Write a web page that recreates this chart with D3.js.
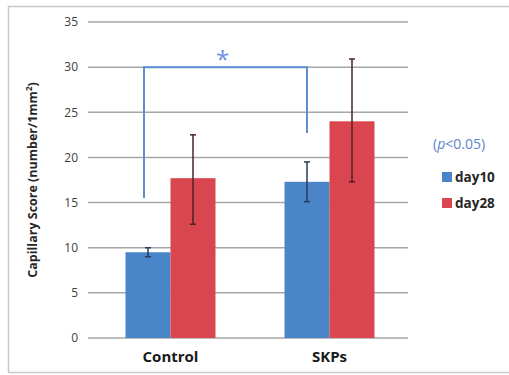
<!DOCTYPE html>
<html>
<head>
<meta charset="utf-8">
<script src="https://cdn.jsdelivr.net/npm/d3@7"></script>
<style>
  body { margin: 0; background: #fff; }
  text { font-family: "Open Sans", "DejaVu Sans", sans-serif; }
</style>
</head>
<body>
<div id="chart"></div>
<script>
// data
var groups = ["Control", "SKPs"];
var seriesNames = ["day10", "day28"];
var day10 = [9.5, 17.3];
var day28 = [17.7, 24.0];
var day10Err = [[9.0, 10.0], [15.1, 19.5]];
var day28Err = [[12.6, 22.5], [17.3, 30.9]];
var yTicks = [0, 5, 10, 15, 20, 25, 30, 35];
var colors = ["#4a84c9", "#d9464f"];

var svgWidth = 509;
var svgHeight = 375;

var margin = { top: 22, right: 101, bottom: 37, left: 88 };
var width = svgWidth - margin.left - margin.right;
var height = svgHeight - margin.top - margin.bottom;

var svg = d3.select("#chart")
  .append("svg")
  .attr("width", svgWidth)
  .attr("height", svgHeight);

// outer frame
svg.append("rect")
  .attr("x", 8.5).attr("y", 6.5)
  .attr("width", 505).attr("height", 366)
  .attr("fill", "none")
  .attr("stroke", "#c8c8c8")
  .attr("stroke-width", 1.5);

var chartGroup = svg.append("g")
  .attr("transform", `translate(${margin.left}, ${margin.top})`);

var x0 = d3.scaleBand().domain(groups).range([3, width + 1]).paddingInner(0).paddingOuter(0);
var x1 = d3.scaleBand().domain(seriesNames).range([0, 90]).padding(0);
var y = d3.scaleLinear().domain([0, 35]).range([height, 0]);

// gridlines
chartGroup.selectAll(".grid")
  .data(yTicks)
  .enter()
  .append("line")
  .attr("x1", 0).attr("x2", width)
  .attr("y1", d => y(d)).attr("y2", d => y(d))
  .attr("stroke", "#a6a6a6")
  .attr("stroke-width", 1.5);

// y tick labels
var leftAxis = d3.axisLeft(y).tickValues(yTicks).tickSize(0).tickPadding(10);
chartGroup.append("g")
  .call(leftAxis)
  .call(g => g.select(".domain").remove())
  .selectAll("text")
  .attr("font-size", 12)
  .attr("fill", "#404040");

// x labels
var bottomAxis = d3.axisBottom(x0).tickSize(0).tickPadding(13);
chartGroup.append("g")
  .attr("transform", `translate(0, ${height})`)
  .call(bottomAxis)
  .call(g => g.select(".domain").remove())
  .selectAll("text")
  .attr("font-size", 15)
  .attr("font-weight", "bold")
  .attr("fill", "#1a1a1a");

var seriesVals = [day10, day28];
var seriesErr = [day10Err, day28Err];

function barX(gi, si) {
  return x0(groups[gi]) + x0.bandwidth() / 2 - 45 + x1(seriesNames[si]);
}

// bars
seriesNames.forEach(function(s, si) {
  chartGroup.selectAll(".bar" + si)
    .data(seriesVals[si])
    .enter()
    .append("rect")
    .attr("x", (d, gi) => barX(gi, si))
    .attr("y", d => y(d))
    .attr("width", x1.bandwidth())
    .attr("height", d => height - y(d))
    .attr("fill", colors[si]);
});

// error bars
seriesNames.forEach(function(s, si) {
  var g = chartGroup.selectAll(".err" + si)
    .data(seriesErr[si])
    .enter()
    .append("g")
    .attr("stroke", si === 0 ? "#2b3a5a" : "#4a2326")
    .attr("stroke-width", 1.5);
  g.append("line")
    .attr("x1", (d, gi) => barX(gi, si) + x1.bandwidth() / 2)
    .attr("x2", (d, gi) => barX(gi, si) + x1.bandwidth() / 2)
    .attr("y1", d => y(d[0])).attr("y2", d => y(d[1]));
  [0, 1].forEach(function(k) {
    g.append("line")
      .attr("x1", (d, gi) => barX(gi, si) + x1.bandwidth() / 2 - 3)
      .attr("x2", (d, gi) => barX(gi, si) + x1.bandwidth() / 2 + 3)
      .attr("y1", d => y(d[k])).attr("y2", d => y(d[k]));
  });
});

// significance bracket
var bx1 = barX(0, 0) + x1.bandwidth() / 2 - 4;
var bx2 = barX(1, 0) + x1.bandwidth() / 2;
chartGroup.append("path")
  .attr("d", `M${bx1},${y(15.5)} V${y(30)} H${bx2} V${y(22.7)}`)
  .attr("fill", "none")
  .attr("stroke", "#5b8fd4")
  .attr("stroke-width", 2);

chartGroup.append("text")
  .attr("x", (bx1 + bx2) / 2 - 3)
  .attr("y", y(30) + 1)
  .attr("text-anchor", "middle")
  .attr("font-size", 24)
  .attr("fill", "#6f8fe0")
  .text("*");

// y axis title
chartGroup.append("text")
  .attr("transform", "rotate(-90)")
  .attr("x", -(180 - margin.top))
  .attr("y", 33 - margin.left)
  .attr("dy", "0.35em")
  .attr("text-anchor", "middle")
  .attr("font-size", 12.5)
  .attr("font-weight", "bold")
  .attr("fill", "#262626")
  .html("Capillary Score (number/1mm<tspan dy='-5' font-size='8'>2</tspan><tspan dy='5'>)</tspan>");

// legend
var legend = svg.append("g").attr("transform", "translate(433, 0)");
legend.append("text")
  .attr("x", 0).attr("y", 149)
  .attr("font-size", 14)
  .attr("fill", "#5b86c8")
  .html("(<tspan font-style='italic'>p</tspan>&lt;0.05)");

seriesNames.forEach(function(s, si) {
  var row = legend.append("g").attr("transform", `translate(9, ${172 + si * 26})`);
  row.append("rect")
    .attr("width", 10).attr("height", 10)
    .attr("fill", colors[si]);
  row.append("text")
    .attr("x", 13).attr("y", 10)
    .attr("font-size", 13.5)
    .attr("font-weight", "bold")
    .attr("fill", "#262626")
    .text(s);
});
</script>
</body>
</html>
